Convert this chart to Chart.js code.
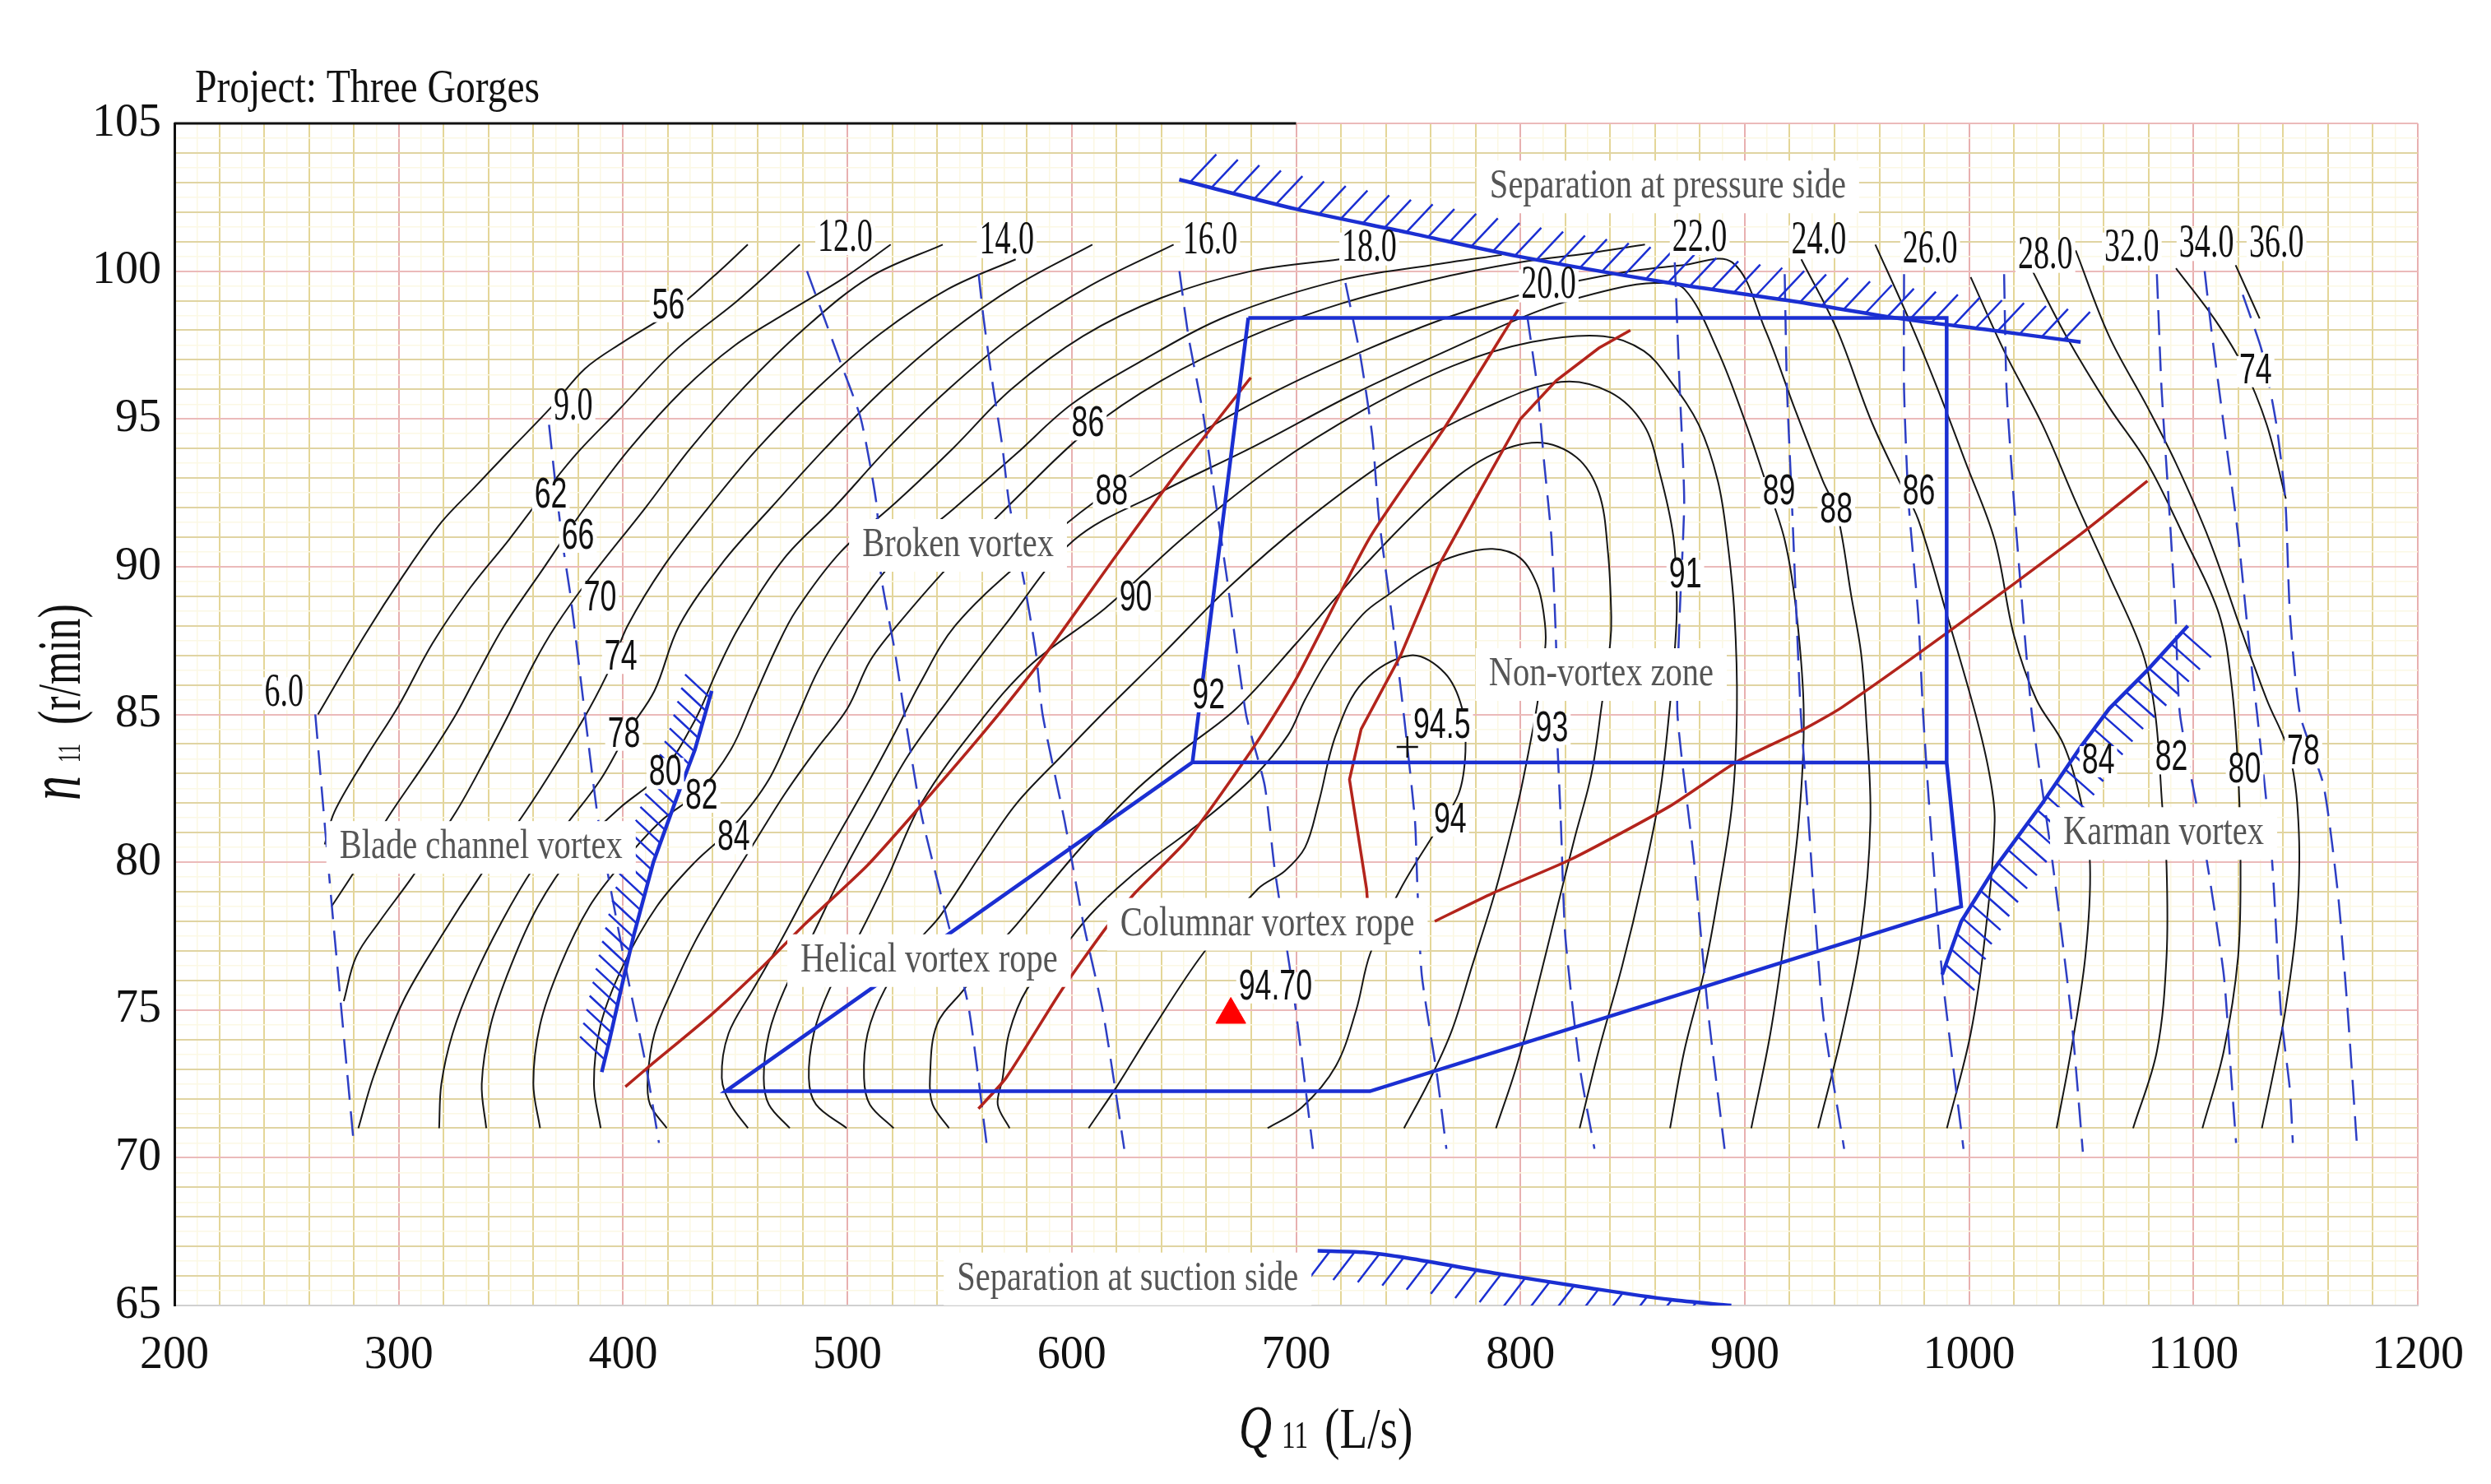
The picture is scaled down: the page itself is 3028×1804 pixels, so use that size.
<!DOCTYPE html>
<html>
<head>
<meta charset="utf-8">
<title>Project: Three Gorges - hill chart</title>
<script src="https://cdn.jsdelivr.net/npm/chart.js@4.4.1/dist/chart.umd.min.js"></script>
<style>
  html, body { margin: 0; padding: 0; background: #ffffff; }
  canvas { display: block; }
</style>
</head>
<body>
<canvas id="hill" width="3028" height="1804"></canvas>
<script>
// axis tick labels
const xTicks = [200, 300, 400, 500, 600, 700, 800, 900, 1000, 1100, 1200];
const yTicks = [65, 70, 75, 80, 85, 90, 95, 100, 105];

// efficiency contours, points are [Q11 (L/s), n11 (r/min)]; "a" = left branch, "b" = right branch
const c56 = [[264,85],[285,87.7],[302,89.7],[319,91.5],[334,92.7],[349,93.9],[368,95.4],[383,96.7],[400,97.6],[423,98.7],[440,99.8],[455.6,100.9]];
const c62 = [[267,80.6],[271.3,81.7],[285,83.5],[300,85.3],[315,87.4],[332,89.3],[349,90.9],[362,92.2],[379,93.8],[398,95.3],[423,97.3],[451,99],[478.8,100.9]];
const c66 = [[270,78.5],[278.7,79.5],[296.8,81.7],[313,83.5],[325.5,85],[336,86.5],[347,88],[365,90],[383,92],[403,94],[427,96],[450,97.5],[473,98.6],[499,99.8],[519.3,100.9]];
const c70a = [[275.5,75.3],[281,76.8],[291.5,78],[306,79.5],[325.5,81.7],[338,83.4],[349,85],[360,86.7],[370,88],[385,89.6],[410,92],[430,94],[453,96],[480,98],[510,99.8],[542.5,100.9]];
const c70b = [[1118.8,100.2],[1129.5,98.4]];
const c74a = [[282,71],[289,72.8],[302,75.3],[319,77.5],[336,79.5],[356.4,81.7],[370,83.3],[385,85.2],[395,86.7],[402,88],[418,90],[438,92],[460,94],[486,96],[515,97.9],[545,99.4],[575,100.4]];
const c74b = [[1092.2,100.1],[1109.2,98.4],[1122,96.8],[1132.7,94.8],[1141.2,92.3]];
const c78a = [[318,71],[319,72.5],[324,74.2],[333,76],[346,78],[360,79.8],[375,81.3],[390,82.8],[402,84.4],[414,85.8],[425,88],[445,90.2],[466,92],[490,94],[516,96],[545,97.9],[575,99.5],[609.2,100.9]];
const c78b = [[1047.5,100.7],[1062.4,97.8],[1079.5,95.4],[1092.2,93.5],[1107.1,90.9],[1122,87.7],[1132.7,85.5],[1143,83.6],[1147,81],[1146,78],[1141,75],[1136,73],[1130.5,71]];
const c80a = [[339,71],[337,72.5],[341,74.5],[350,76.5],[362,78.5],[378,80.3],[398,81.8],[417,83],[432,84.8],[442,86.5],[452,88],[472,90.3],[494,92],[518,94],[545,96],[575,97.9],[608,99.5],[645.4,100.9]];
const c80b = [[1026.3,100.3],[1043.3,97.8],[1062.4,95.4],[1079.5,93.5],[1096.5,90.9],[1111.4,88.4],[1117,86],[1120,83],[1121,79.9],[1119.9,76.8],[1113.5,73.6],[1104,71]];
const c82a = [[363,71],[360,72.5],[363,74.5],[372,76.5],[385,78.5],[400,80],[417,81.4],[434,82.4],[448,83.8],[458,85.5],[468,87.2],[477,88.5],[497,90.5],[522,92.2],[547,94],[573,96],[605,97.8],[640,99.1],[680,100],[719.3,100.4]];
const c82b = [[1000.7,99.8],[1015.6,97.3],[1032.7,94.8],[1047.5,92.2],[1062.4,89.7],[1077.3,87.1],[1083,85],[1086,82],[1088,79.9],[1088,76.8],[1083.7,73.6],[1073.1,71]];
const c84a = [[390,71],[387,72.5],[390,74.5],[400,76.5],[415,78.5],[432,80],[449,81.2],[465,82.8],[477,84.8],[487,86.5],[499,88],[522,90.3],[548,92],[575,93.8],[600,95.5],[632,97],[670,98.5],[720,99.7],[760,100.2],[791.7,100.55]];
const c84b = [[958.2,100.9],[973,98.4],[985.8,96.05],[998.6,93.5],[1011.4,90.9],[1019.9,87.7],[1030,85.5],[1042,84],[1050,82],[1053.9,79.9],[1051.8,76.8],[1045.4,73.6],[1039,71]];
const c86a = [[419.5,71],[412,71.8],[411,72.7],[414,74.2],[422,75.7],[432,77.3],[445,79],[458,80.6],[472,82.3],[486,83.8],[500,85.2],[510,86.8],[522,88],[545,90],[575,92.3],[607,94.6],[640,96.3],[680,97.8],[720,98.9],[760,99.7],[800,100.3],[830,100.6],[855.5,100.9]];
const c86b = [[925.2,100.4],[941.2,98],[956,95],[968.8,92.9],[977.3,91.6],[990,88.4],[1002.9,85],[1009,83],[1011.4,81.4],[1007.1,77.5],[1000.7,74.2],[990.1,71]];
const c88 = [[455.7,71],[448,71.8],[444,72.7],[447,74.2],[458,75.7],[470,77.3],[482,79],[495,80.8],[510,82.8],[522,84.5],[532,86],[548,88],[578,90.2],[612,92.3],[650,94.2],[690,95.9],[730,97.3],[770,98.5],[810,99.4],[845,99.95],[872,100.2],[894.4,100.3],[909.2,98],[922,95.4],[934.8,92.9],[941.2,91.8],[947.5,89],[951.8,87.1],[954,85],[956,81.4],[951.8,77.5],[943.3,74.2],[932.7,71]];
const c89 = [[474.3,71],[465,71.8],[462.7,72.7],[465,74.2],[472,75.7],[483,77.3],[497,79.5],[512,81.6],[527,83.6],[545,85.5],[570,88],[601,90.9],[639,92.5],[682,94.1],[724.5,95.8],[767,97.3],[809.6,98.7],[841.5,99.4],[860,99.6],[873,99.4],[888,97.3],[900.7,94.8],[909.2,92.9],[917.8,90.9],[923.1,88.4],[926.3,85],[924.1,81.4],[917.8,77.5],[911.4,74.2],[902.9,71]];
const c90 = [[499.7,71],[486,71.8],[482.8,72.7],[485,74.2],[492,75.7],[505,77.5],[518,79.5],[533,82],[558.5,84.7],[582,86.7],[615,88.6],[650,91],[690,93.4],[730,95.3],[770,96.8],[805,97.6],[837,97.8],[855,97.3],[866.7,96.3],[879.5,94.8],[888,92.9],[892.2,90.9],[895.4,88.4],[896.5,85.2],[894.4,82],[888,78.8],[881.6,76.2],[873,73.6],[866.7,71]];
const c91 = [[520.6,71],[510,71.8],[507.4,72.7],[509,74.2],[516.7,75.7],[530,77.2],[541.5,78.2],[560.7,80.4],[575.5,82],[596.8,83.7],[616,85.2],[640,87],[670,89.3],[705,91.6],[745,93.8],[785,95.4],[818,96.25],[840,95.9],[855,94.8],[862,93.2],[868.2,91],[869.7,88.8],[869,87.4],[866.7,85.35],[862.1,82.3],[854.5,79.4],[845.4,76.5],[834.8,73.6],[826.4,71]];
const c92 = [[545.3,71],[538,71.8],[536.8,72.7],[539.9,74.5],[552,75.7],[565,77],[575.5,77.9],[603,80.4],[626.6,82.3],[648,83.7],[673.4,85.2],[700,87.4],[730,90],[760,92.3],[785,93.7],[807.5,94.2],[825,93.7],[835,92.5],[839,90.5],[840.5,88.3],[840,87.4],[836.3,85.35],[831.7,83],[824.1,80.8],[816.5,78.5],[807.4,75.7],[798.3,73.1],[789.1,71]];
const c93 = [[572.3,71],[567,71.8],[569.2,72.7],[572,74.2],[580,75.7],[595,77],[608,78.2],[620,79.1],[635.6,80.1],[658.4,81.4],[681.2,82.9],[696.4,84.3],[704,85.5],[714.6,86.9],[729.9,88.4],[742,89.1],[757.2,89.9],[772.4,90.4],[787.6,90.6],[799.8,90.3],[807.4,89.4],[810.4,88.4],[811.2,87.4],[807.4,85.3],[804.3,84],[799.8,82.3],[793.7,80.4],[787.6,78.7],[778.5,76.5],[769.4,74.3],[758.7,72.5],[748.1,71]];
const c94 = [[607.5,71],[620,72.4],[635.6,74.3],[658.4,76.9],[683,79.1],[694.9,79.7],[704,80.5],[710,82],[717.7,84.3],[729.9,86.1],[751.1,87],[766.3,86.4],[774,85.2],[775.5,83.75],[772.4,82.3],[761.8,81],[746.6,79.1],[733,76.9],[726.8,75],[717.7,73.1],[702.5,71.7],[687.3,71]];

// guide vane opening lines (dashed)
const gv06 = [[262.8,85],[270.2,78.5],[279.8,70.6]];
const gv09 = [[367,94.8],[370,92.7],[373.4,90.6],[376.6,89],[383,85],[389,81.4],[401,76.5],[410,73.2],[416,70.5]];
const gv12 = [[482,100],[496,97.1],[506,95],[513,92.1],[515,89.7],[521,87.2],[525.5,85],[533,81.6],[544,78.2],[554,75.1],[562,70.5]];
const gv14 = [[558.5,99.9],[560.7,98.4],[565,96.05],[569,94.1],[572,92.2],[578.7,89.5],[584,87.1],[587,85],[596.8,81.4],[605,78],[614,74.9],[623.4,70.3]];
const gv16 = [[648,100],[652,97.8],[658.5,95.2],[662.8,92.9],[669,89.7],[677.7,85],[686,82.6],[690.4,79.8],[699,75.5],[707.5,70.3]];
const gv18 = [[722,99.6],[728.7,97.1],[734,94.4],[737,91.6],[742.6,88.4],[748,85],[753,81.4],[754,79.3],[756,76.2],[762.8,72.8],[767,70.3]];
const gv20 = [[803,98.5],[807.5,96.1],[810.6,93.5],[813.9,90.9],[816,87.1],[816,85],[818,81.4],[820,77.5],[826.6,73],[833,70.3]];
const gv22 = [[868.8,100.3],[871,96.05],[873,92.2],[871,88.4],[870,85],[877.3,80.1],[883.7,74.9],[891,70.3]];
const gv24 = [[917.8,99.9],[918.8,96.05],[921,92.2],[923,88.4],[925,85],[928.4,81.4],[934.8,74.9],[944.3,70.3]];
const gv26 = [[971,99.9],[971,96],[973,92.2],[977.3,88.4],[979.5,85],[982.7,81.4],[988,76.2],[997.5,70.3]];
const gv28 = [[1015.6,99.9],[1016.7,96],[1020,92.2],[1024,88.4],[1028,85],[1037,80.1],[1045.4,74.9],[1050.7,70.2]];
const gv32 = [[1083.7,99.9],[1085.8,96],[1089,92.2],[1092,88.4],[1094,85],[1105,80.5],[1113.5,76.2],[1116.7,72.9],[1119,70.5]];
const gv34 = [[1105,100],[1108,98],[1113.5,94.8],[1120,91],[1125.2,87.1],[1128.4,85],[1135,80.1],[1139,74.9],[1143,72.3],[1144.3,70.5]];
const gv36 = [[1122,99.2],[1130.5,97.3],[1137,94.8],[1141,92.2],[1143,88.4],[1147.5,85],[1158,82.6],[1164.6,78.8],[1168.8,74.9],[1173,70.3]];

// vortex zone borders (red)
const redA = [[401,72.4],[411,73.05],[439.5,74.85],[462.7,76.5],[481,77.9],[509,79.9],[533.7,82],[563,84.6],[586,86.8],[620,90.4],[650,93.5],[679.8,96.4]];
const redB = [[558.4,71.66],[570.7,72.7],[595.4,75.66],[615.5,77.8],[628.7,79],[652,80.8],[682,84],[700,86.2],[733,91],[767,94.8],[799,98.7]];
const redC = [[732,78.5],[731.4,79.1],[723.8,82.8],[729,84.5],[746.6,87],[763.3,90],[781.5,92.5],[800,95],[816,96.3],[835,97.4],[849,98]];
const redD = [[761.8,78],[787.6,78.95],[822.6,80.1],[866.7,81.9],[896.5,83.4],[926.3,84.5],[943.3,85.24],[990,87.75],[1049.7,91.1],[1079.5,92.9]];

// operating range (blue)
const zoneEdge = [[678.7,98.42],[990,98.42],[990,83.37],[996.5,78.5],[732.9,72.25],[445.7,72.25],[653.8,83.38],[678.7,98.42]];
const zoneMid = [[653.8,83.38],[990,83.37]];

// hatched limits
const pressureEdge = [[647.9,103.1],[700,102.1],[750,101.3],[799,100.5],[866.6,99.6],[920,99],[968.8,98.4],[1010,98],[1049.7,97.6]];
const suctionEdge = [[709.6,66.85],[730,66.8],[750,66.6],[788,66.1],[830,65.6],[866.6,65.2],[894,65]];
const bladeEdge = [[439.5,85.8],[432,83.8],[424,82.2],[413.5,80],[405,77.6],[400,76],[394,74],[390.5,72.9]];
const karmanEdge = [[1097.5,88],[1079.5,86.5],[1062.5,85.2],[1049.7,83.9],[1032.7,82],[1011.4,79.8],[996.5,78],[988,76.2]];

// marked points
const optimumPt = [[670.9,74.84]];
const ratedPt = [[749.6,83.9]];

// labels: [text, Q11, n11]
const effLabels = [["56",420.2,98.8],["62",367.8,92.4],["66",379.9,91],["70",389.8,88.9],["74",399,86.9],["78",400.4,84.3],["80",418.8,83],["82",435,82.2],["84",449.3,80.8],
  ["86",607.2,94.8],["88",617.8,92.5],["90",628.5,88.9],["92",661,85.6],["94.5",765,84.6],["94",768.7,81.4],["93",814,84.5],["91",873.5,89.7],["89",915.3,92.5],["88",940.8,91.9],["86",977.6,92.5],
  ["74",1127.7,96.6],["84",1057.6,83.4],["82",1090.2,83.5],["80",1122.8,83.1],["78",1149,83.7],["94.70",690.8,75.75]];
const vaneLabels = [["6.0",248.9,85.7],["9.0",377.8,95.4],["12.0",499,101.1],["14.0",571,101],["16.0",661.7,101],["18.0",732.6,100.75],["20.0",812.6,99.5],["22.0",879.9,101.1],["24.0",933,101],["26.0",982.6,100.7],["28.0",1034,100.5],["32.0",1072.5,100.75],["34.0",1105.8,100.9],["36.0",1137,100.9]];
const zoneLabels = [["Separation at pressure side",865.7,102.85],["Broken vortex",549.3,90.72],["Non-vortex zone",836,86.35],["Blade channel vortex",336.7,80.5],["Helical vortex rope",536.4,76.67],["Columnar vortex rope",687.2,77.9],["Karman vortex",1086.7,80.97],["Separation at suction side",624.9,65.9]];

// ---------------------------------------------------------------
function toXY(arr) {
  return arr.map(p => ({ x: p[0], y: p[1] }));
}
function series(arr, style) {
  return Object.assign({ data: toXY(arr), showLine: true, pointRadius: 0, fill: false }, style);
}

const contourStyle = { borderColor: "#161616", borderWidth: 2, tension: 0.35, order: 6 };
const vaneStyle = { borderColor: "#2e3fc4", borderWidth: 2.5, borderDash: [30, 14], tension: 0.2, order: 5 };
const redStyle = { borderColor: "#b3241c", borderWidth: 3.5, tension: 0.2, order: 4 };
const blueStyle = { borderColor: "#1b2fd2", borderWidth: 4.5, tension: 0, order: 3 };

const datasets = [];
[c56, c62, c66, c70a, c70b, c74a, c74b, c78a, c78b, c80a, c80b, c82a, c82b, c84a, c84b, c86a, c86b, c88, c89, c90, c91, c92, c93, c94]
  .forEach(c => datasets.push(series(c, contourStyle)));
[gv06, gv09, gv12, gv14, gv16, gv18, gv20, gv22, gv24, gv26, gv28, gv32, gv34, gv36]
  .forEach(g => datasets.push(series(g, vaneStyle)));
datasets.push(series(redA, redStyle));
datasets.push(series(redB, redStyle));
datasets.push(series(redC, Object.assign({}, redStyle, { tension: 0 })));
datasets.push(series(redD, redStyle));
datasets.push(series(zoneEdge, blueStyle));
datasets.push(series(zoneMid, blueStyle));
// hatch: [dx, dy, spacing] in pixels
datasets.push(series(pressureEdge, Object.assign({}, blueStyle, { tension: 0.3, hatch: [32, -34, 27] })));
datasets.push(series(suctionEdge, Object.assign({}, blueStyle, { tension: 0.3, hatch: [-26, 34, 30] })));
datasets.push(series(bladeEdge, Object.assign({}, blueStyle, { hatch: [-30, -28, 17] })));
datasets.push(series(karmanEdge, Object.assign({}, blueStyle, { hatch: [35, 31, 20] })));
datasets.push({ data: toXY(optimumPt), showLine: false, pointStyle: "triangle", pointRadius: 21,
  backgroundColor: "#ff0000", borderColor: "#ff0000", borderWidth: 1, order: 1 });
datasets.push({ data: toXY(ratedPt), showLine: false, pointStyle: "cross", pointRadius: 13,
  borderColor: "#111111", borderWidth: 2.5, order: 1 });

function near(v, m) {
  return Math.abs(v / m - Math.round(v / m)) < 1e-6;
}

function hatchAlong(ctx, pts, vx, vy, step) {
  let carry = step / 2;
  for (let i = 0; i < pts.length - 1; i++) {
    const a = pts[i], b = pts[i + 1];
    const len = Math.hypot(b.x - a.x, b.y - a.y);
    let t = carry;
    while (t < len) {
      const x = a.x + (b.x - a.x) * t / len;
      const y = a.y + (b.y - a.y) * t / len;
      ctx.moveTo(x, y);
      ctx.lineTo(x + vx, y + vy);
      t += step;
    }
    carry = t - len;
  }
}

function drawLabel(ctx, txt, x, y, font, sx, color, padX, boxH) {
  ctx.save();
  ctx.font = font;
  const w = ctx.measureText(txt).width * sx;
  if (boxH) {
    ctx.fillStyle = "#ffffff";
    ctx.fillRect(x - w / 2 - padX, y - boxH / 2, w + padX * 2, boxH);
  }
  ctx.translate(x, y);
  ctx.scale(sx, 1);
  ctx.fillStyle = color;
  ctx.textAlign = "center";
  ctx.textBaseline = "middle";
  ctx.fillText(txt, 0, 0);
  ctx.restore();
}

function drawRun(ctx, parts) {
  let x = 0;
  ctx.textBaseline = "alphabetic";
  ctx.textAlign = "left";
  for (const p of parts) {
    ctx.font = p.font;
    const w = ctx.measureText(p.text).width * p.sx;
    ctx.save();
    ctx.translate(x, 0);
    ctx.scale(p.sx, 1);
    ctx.fillText(p.text, 0, 0);
    ctx.restore();
    x += w + p.gap;
  }
}

const paper = {
  id: "paper",
  beforeDraw(chart) {
    const ctx = chart.ctx;
    ctx.save();
    ctx.fillStyle = "#ffffff";
    ctx.fillRect(0, 0, chart.width, chart.height);
    ctx.restore();
  }
};

const overlay = {
  id: "overlay",
  afterDatasetsDraw(chart) {
    const ctx = chart.ctx;
    const xs = chart.scales.x, ys = chart.scales.y;
    const area = chart.chartArea;

    // hatch marks along the limit lines
    ctx.save();
    ctx.beginPath();
    ctx.rect(area.left, area.top, area.right - area.left, area.bottom - area.top);
    ctx.clip();
    chart.data.datasets.forEach((ds, i) => {
      if (!ds.hatch) return;
      const pts = chart.getDatasetMeta(i).data.map(p => ({ x: p.x, y: p.y }));
      ctx.beginPath();
      ctx.strokeStyle = ds.borderColor;
      ctx.lineWidth = 2.5;
      hatchAlong(ctx, pts, ds.hatch[0], ds.hatch[1], ds.hatch[2]);
      ctx.stroke();
    });
    ctx.restore();

    // partial top frame
    ctx.save();
    ctx.strokeStyle = "#111111";
    ctx.lineWidth = 3;
    ctx.beginPath();
    ctx.moveTo(xs.getPixelForValue(200), ys.getPixelForValue(105));
    ctx.lineTo(xs.getPixelForValue(700), ys.getPixelForValue(105));
    ctx.stroke();
    ctx.restore();

    effLabels.forEach(l => drawLabel(ctx, l[0], xs.getPixelForValue(l[1]), ys.getPixelForValue(l[2]),
      '51px "Liberation Sans", Arial, sans-serif', 0.7, "#111111", 3, 38));
    vaneLabels.forEach(l => drawLabel(ctx, l[0], xs.getPixelForValue(l[1]), ys.getPixelForValue(l[2]),
      '56px "Liberation Serif", "Times New Roman", serif', 0.68, "#111111", 3, 40));
    zoneLabels.forEach(l => drawLabel(ctx, l[0], xs.getPixelForValue(l[1]), ys.getPixelForValue(l[2]),
      '50px "Liberation Serif", "Times New Roman", serif', 0.81, "#555555", 16, 64));
  },
  afterDraw(chart) {
    const ctx = chart.ctx;
    ctx.save();
    ctx.fillStyle = "#111111";
    // project title
    ctx.translate(237, 124);
    drawRun(ctx, [{ text: "Project: Three Gorges", font: '58px "Liberation Serif", serif', sx: 0.82, gap: 0 }]);
    ctx.restore();

    // x axis title
    ctx.save();
    ctx.fillStyle = "#111111";
    ctx.translate(1506, 1760);
    drawRun(ctx, [
      { text: "Q", font: 'italic 74px "Liberation Serif", serif', sx: 0.75, gap: 12 },
      { text: "11", font: '46px "Liberation Serif", serif', sx: 0.72, gap: 20 },
      { text: "(L/s)", font: '70px "Liberation Serif", serif', sx: 0.79, gap: 0 }
    ]);
    ctx.restore();

    // y axis title
    ctx.save();
    ctx.fillStyle = "#111111";
    ctx.translate(97, 973);
    ctx.rotate(-Math.PI / 2);
    drawRun(ctx, [
      { text: "n", font: 'italic 92px "Liberation Serif", serif', sx: 0.65, gap: 16 },
      { text: "11", font: '40px "Liberation Serif", serif', sx: 0.6, gap: 23 },
      { text: "(r/min)", font: '74px "Liberation Serif", serif', sx: 0.7, gap: 0 }
    ]);
    ctx.restore();
  }
};

const tickFont = { family: '"Liberation Serif", "Times New Roman", serif', size: 56 };

const chart = new Chart(document.getElementById("hill"), {
  type: "scatter",
  data: { datasets },
  options: {
    responsive: false,
    animation: false,
    events: [],
    layout: { padding: { top: 150, right: 89, left: 0, bottom: 0 } },
    plugins: { legend: { display: false }, tooltip: { enabled: false } },
    scales: {
      x: {
        type: "linear",
        min: 200,
        max: 1200,
        afterFit(scale) { scale.height = 217; },
        ticks: {
          stepSize: 10,
          autoSkip: false,
          maxRotation: 0,
          padding: 28,
          color: "#111111",
          font: tickFont,
          callback: v => (xTicks.includes(Math.round(v)) && near(v, 100) ? String(Math.round(v)) : "")
        },
        grid: {
          drawTicks: false,
          color: c => (!c.tick ? "#e6dcae" : near(c.tick.value, 100) ? "#e8b0b0" : near(c.tick.value, 20) ? "#e4d698" : "#fbf7e2"),
          lineWidth: c => (c.tick && !near(c.tick.value, 20) ? 1.5 : 2)
        },
        border: { display: true, color: "#d0d0d0", width: 2 }
      },
      y: {
        type: "linear",
        min: 65,
        max: 105,
        afterFit(scale) { scale.width = 212; },
        ticks: {
          stepSize: 0.5,
          autoSkip: false,
          padding: 16,
          color: "#111111",
          font: tickFont,
          callback: v => (near(v, 5) && yTicks.includes(Math.round(v)) ? String(Math.round(v)) : "")
        },
        grid: {
          drawTicks: false,
          color: c => (!c.tick ? "#e6dcae" : near(c.tick.value, 5) ? "#ebbaba" : near(c.tick.value, 1) ? "#e0d4a2" : "#fbf8e4"),
          lineWidth: c => (c.tick && !near(c.tick.value, 1) ? 1.5 : 2)
        },
        border: { display: true, color: "#111111", width: 3 }
      }
    }
  },
  plugins: [paper, overlay]
});
</script>
</body>
</html>
